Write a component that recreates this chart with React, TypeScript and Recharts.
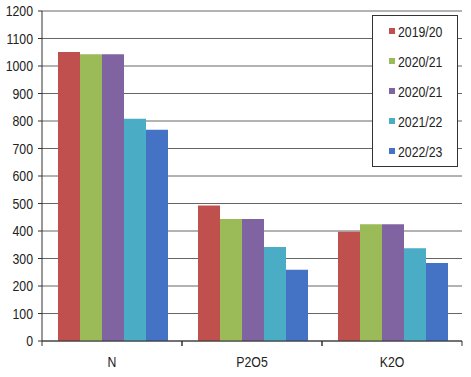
import { BarChart, Bar, XAxis, YAxis, CartesianGrid, Legend } from "recharts";

const categories = ["N", "P2O5", "K2O"];
const seriesNames = ["2019/20", "2020/21", "2020/21", "2021/22", "2022/23"];
const seriesColors = ["#C0504D", "#9BBB59", "#8064A2", "#4BACC6", "#4472C4"];
const values = [
  [1051, 493, 397],
  [1043, 444, 425],
  [1043, 444, 425],
  [808, 342, 337],
  [768, 259, 284],
];
const yTicks = [0, 100, 200, 300, 400, 500, 600, 700, 800, 900, 1000, 1100, 1200];

const FONT = '"Liberation Sans", Arial, sans-serif';
const SQUEEZE = 0.82;

const data = categories.map((name, i) => {
  const row: Record<string, string | number> = { name };
  values.forEach((vals, s) => {
    row[`s${s}`] = vals[i];
  });
  return row;
});

function CategoryTick(props: any) {
  const { x, y, payload, width, visibleTicksCount } = props;
  const half = width / visibleTicksCount / 2;
  return (
    <g>
      <line x1={x - half} x2={x - half} y1={y} y2={y + 5} stroke="#333" />
      <line x1={x + half} x2={x + half} y1={y} y2={y + 5} stroke="#333" />
      <text
        transform={`translate(${x},${y + 26}) scale(${SQUEEZE},1)`}
        textAnchor="middle"
        fontSize={15}
        fill="#222"
        fontFamily={FONT}
      >
        {payload.value}
      </text>
    </g>
  );
}

function ValueTick(props: any) {
  const { x, y, payload } = props;
  return (
    <text
      transform={`translate(${x},${y + 5}) scale(${SQUEEZE},1)`}
      textAnchor="end"
      fontSize={15}
      fill="#222"
      fontFamily={FONT}
    >
      {payload.value}
    </text>
  );
}

function LegendBox(props: any) {
  const { payload } = props;
  return (
    <div
      style={{
        border: "1px solid #333",
        background: "#fff",
        width: 84,
        height: 150,
        fontFamily: FONT,
        fontSize: 15,
        color: "#222",
      }}
    >
      {payload.map((entry: any, i: number) => (
        <div key={i} style={{ height: 30, display: "flex", alignItems: "center", paddingLeft: 16 }}>
          <span style={{ display: "inline-block", width: 6, height: 6, background: entry.color, marginRight: 3 }} />
          <span style={{ display: "inline-block", transform: `scaleX(${SQUEEZE})`, transformOrigin: "left center" }}>
            {entry.value}
          </span>
        </div>
      ))}
    </div>
  );
}

export default function App() {
  return (
    <div style={{ position: "absolute", left: 0, top: 0, background: "#fff" }}>
      <BarChart
        width={471}
        height={377}
        data={data}
        margin={{ top: 11, right: 9, left: 0, bottom: 0 }}
        barCategoryGap={16}
        barGap={0}
      >
        <CartesianGrid vertical={false} stroke="#666" />
        <XAxis
          dataKey="name"
          height={36}
          tickLine={false}
          tickSize={0}
          tickMargin={0}
          axisLine={{ stroke: "#333" }}
          tick={<CategoryTick />}
        />
        <YAxis
          width={42}
          domain={[0, 1200]}
          ticks={yTicks}
          interval={0}
          tickSize={4}
          tickMargin={5}
          axisLine={{ stroke: "#333" }}
          tickLine={{ stroke: "#333" }}
          tick={<ValueTick />}
        />
        <Legend
          layout="horizontal"
          verticalAlign="middle"
          align="center"
          wrapperStyle={{ left: 372, top: 15, width: 86, height: 152 }}
          content={<LegendBox />}
        />
        {seriesNames.map((name, s) => (
          <Bar key={s} dataKey={`s${s}`} name={name} fill={seriesColors[s]} isAnimationActive={false} />
        ))}
      </BarChart>
    </div>
  );
}
